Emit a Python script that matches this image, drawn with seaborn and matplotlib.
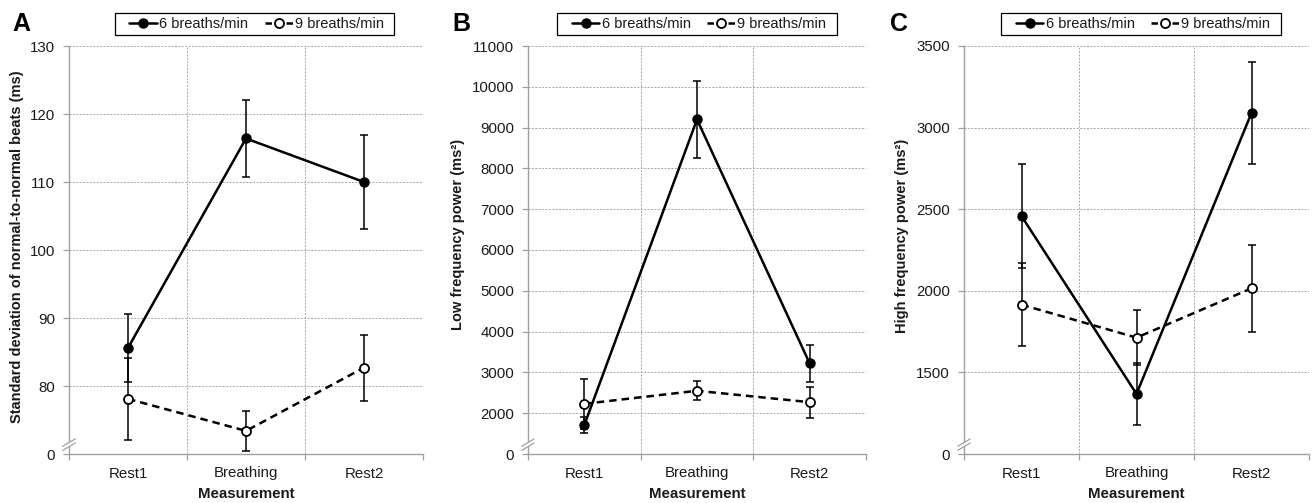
import numpy as np
import pandas as pd
import matplotlib
matplotlib.use("Agg")
import matplotlib.pyplot as plt
from matplotlib.lines import Line2D
from matplotlib.patches import Rectangle
import seaborn as sns

sns.set_theme(style="white")
plt.rcParams['font.family'] = ['Liberation Sans', 'DejaVu Sans']

categories = ['Rest1', 'Breathing', 'Rest2']
series_names = ['6 breaths/min', '9 breaths/min']

sdnn_6 = [85.6, 116.4, 110.0]
sdnn_6_err = [5.0, 5.6, 6.9]
sdnn_9 = [78.1, 73.4, 82.7]
sdnn_9_err = [6.0, 2.9, 4.85]

lf_6 = [1710, 9200, 3220]
lf_6_err = [205, 945, 455]
lf_9 = [2230, 2550, 2270]
lf_9_err = [615, 230, 380]

hf_6 = [2458, 1368, 3090]
hf_6_err = [320, 190, 312]
hf_9 = [1915, 1713, 2015]
hf_9_err = [253, 170, 265]

ylabels = ['Standard deviation of normal-to-normal beats (ms)',
           'Low frequency power (ms²)',
           'High frequency power (ms²)']
panel_letters = ['A', 'B', 'C']
# y-axis: (axis min, axis max, step); the bottom tick is shown as "0" (broken axis)
yaxes = [(70, 130, 10), (1000, 11000, 1000), (1000, 3500, 500)]
panel_data = [(sdnn_6, sdnn_6_err, sdnn_9, sdnn_9_err),
              (lf_6, lf_6_err, lf_9, lf_9_err),
              (hf_6, hf_6_err, hf_9, hf_9_err)]

W, H = 1312, 503
fig = plt.figure(figsize=(W / 100, H / 100), dpi=100)

ax_px = [(69, 423), (528, 866), (964, 1309)]
top_px, bot_px = 46, 454
letter_px = [(12, 24), (452, 24), (890, 24)]
ylabel_px = [(17, 247), (458, 234), (902, 236)]
legend_box = [(115, 394), (557, 837), (1001, 1281)]
legend_top, legend_bot = 13, 35

grid_col = '#a6a6a6'
spine_col = '#a0a0a0'
text_col = '#1a1a1a'
LW = 1.8
DASH = (0, (3, 2))

x = np.arange(len(categories))

for i in range(3):
    l, r = ax_px[i]
    ax = fig.add_axes([l / W, 1 - bot_px / H, (r - l) / W, (bot_px - top_px) / H])
    m6, e6, m9, e9 = panel_data[i]
    df = pd.DataFrame({'x': np.concatenate([x, x]),
                       'y': list(m6) + list(m9),
                       'series': [series_names[0]] * 3 + [series_names[1]] * 3})

    # error bars
    ax.errorbar(x, m9, yerr=e9, fmt='none', ecolor='black', elinewidth=1.1,
                capsize=3, capthick=1.1, zorder=3)
    ax.errorbar(x, m6, yerr=e6, fmt='none', ecolor='black', elinewidth=1.1,
                capsize=3, capthick=1.1, zorder=3)

    d9 = df[df.series == series_names[1]]
    d6 = df[df.series == series_names[0]]
    sns.lineplot(data=d9, x='x', y='y', ax=ax, color='black', linewidth=LW,
                 linestyle=DASH, marker='o', markersize=6.5,
                 markerfacecolor='white', markeredgecolor='black',
                 markeredgewidth=1.3, legend=False, zorder=4)
    sns.lineplot(data=d6, x='x', y='y', ax=ax, color='black', linewidth=LW,
                 marker='o', markersize=6.5, markerfacecolor='black',
                 markeredgecolor='black', markeredgewidth=1.0, legend=False,
                 zorder=5)

    ymin, ymax, step = yaxes[i]
    ax.set_ylim(ymin, ymax)
    ax.set_xlim(-0.5, 2.5)
    yt = np.arange(ymin, ymax + step / 2, step)
    ax.set_yticks(yt)
    ax.set_yticklabels(['0'] + [f'{int(v)}' for v in yt[1:]])
    ax.set_xticks(x)
    ax.set_xticklabels(categories)
    ax.set_xticks([-0.5, 0.5, 1.5, 2.5], minor=True)

    ax.tick_params(axis='x', which='major', length=0, pad=9, labelsize=10.8,
                   labelcolor=text_col)
    ax.tick_params(axis='x', which='minor', length=4, width=0.9, color=spine_col,
                   direction='out', bottom=True)
    ax.tick_params(axis='y', which='major', length=4, width=0.9, color=spine_col,
                   direction='out', left=True, pad=6, labelsize=10.8,
                   labelcolor=text_col)

    ax.grid(False)
    ax.yaxis.grid(True, which='major', color=grid_col, linestyle=(0, (2, 1.5)),
                  linewidth=0.7)
    ax.xaxis.grid(True, which='minor', color=grid_col, linestyle=(0, (2, 1.5)),
                  linewidth=0.7)
    ax.set_axisbelow(True)

    for s in ['top', 'right']:
        ax.spines[s].set_visible(False)
    for s in ['left', 'bottom']:
        ax.spines[s].set_visible(True)
        ax.spines[s].set_color(spine_col)
        ax.spines[s].set_linewidth(1.0)
        ax.spines[s].set_zorder(2)

    ax.set_xlabel('Measurement', fontsize=10.8, fontweight='bold',
                  color=text_col, labelpad=5)
    ax.set_ylabel('')
    fig.text(ylabel_px[i][0] / W, 1 - ylabel_px[i][1] / H, ylabels[i],
             rotation=90, ha='center', va='center', fontsize=10.5,
             fontweight='bold', color=text_col)

    # axis break marks
    bx, by = 0.0, 0.028
    ax.plot([bx - 0.018, bx + 0.018], [by - 0.014, by + 0.004],
            transform=ax.transAxes, color='white', linewidth=3.0,
            clip_on=False, zorder=6, solid_capstyle='butt')
    for off in (-0.005, 0.005):
        ax.plot([bx - 0.018, bx + 0.018], [by - 0.014 + off, by + 0.004 + off],
                transform=ax.transAxes, color=spine_col, linewidth=0.9,
                clip_on=False, zorder=7)

    fig.text(letter_px[i][0] / W, 1 - letter_px[i][1] / H, panel_letters[i],
             fontsize=18, fontweight='bold', ha='left', va='center',
             color='black')

    # legend (frame drawn as a rectangle around the centred entries)
    bl, br = legend_box[i]
    fig.patches.append(Rectangle((bl / W, 1 - legend_bot / H),
                                 (br - bl) / W, (legend_bot - legend_top) / H,
                                 transform=fig.transFigure, facecolor='white',
                                 edgecolor='black', linewidth=0.9, zorder=1))
    handles = [Line2D([], [], color='black', linewidth=LW, marker='o',
                      markersize=6.5, markerfacecolor='black'),
               Line2D([], [], color='black', linewidth=LW,
                      linestyle=(0, (2.6, 1.6)), marker='o', markersize=6.5,
                      markerfacecolor='white', markeredgewidth=1.3)]
    leg = fig.legend(handles, series_names, loc='center',
                     bbox_to_anchor=((bl + br) / 2 / W + 2 / W,
                                     1 - (legend_top + legend_bot) / 2 / H),
                     ncol=2, fontsize=10.5, frameon=False,
                     handlelength=1.9, handletextpad=0.15, columnspacing=1.15,
                     borderpad=0.0, borderaxespad=0)
    leg.set_zorder(3)
    for t in leg.get_texts():
        t.set_color(text_col)

fig.savefig('out.png', dpi=100, facecolor='white')
